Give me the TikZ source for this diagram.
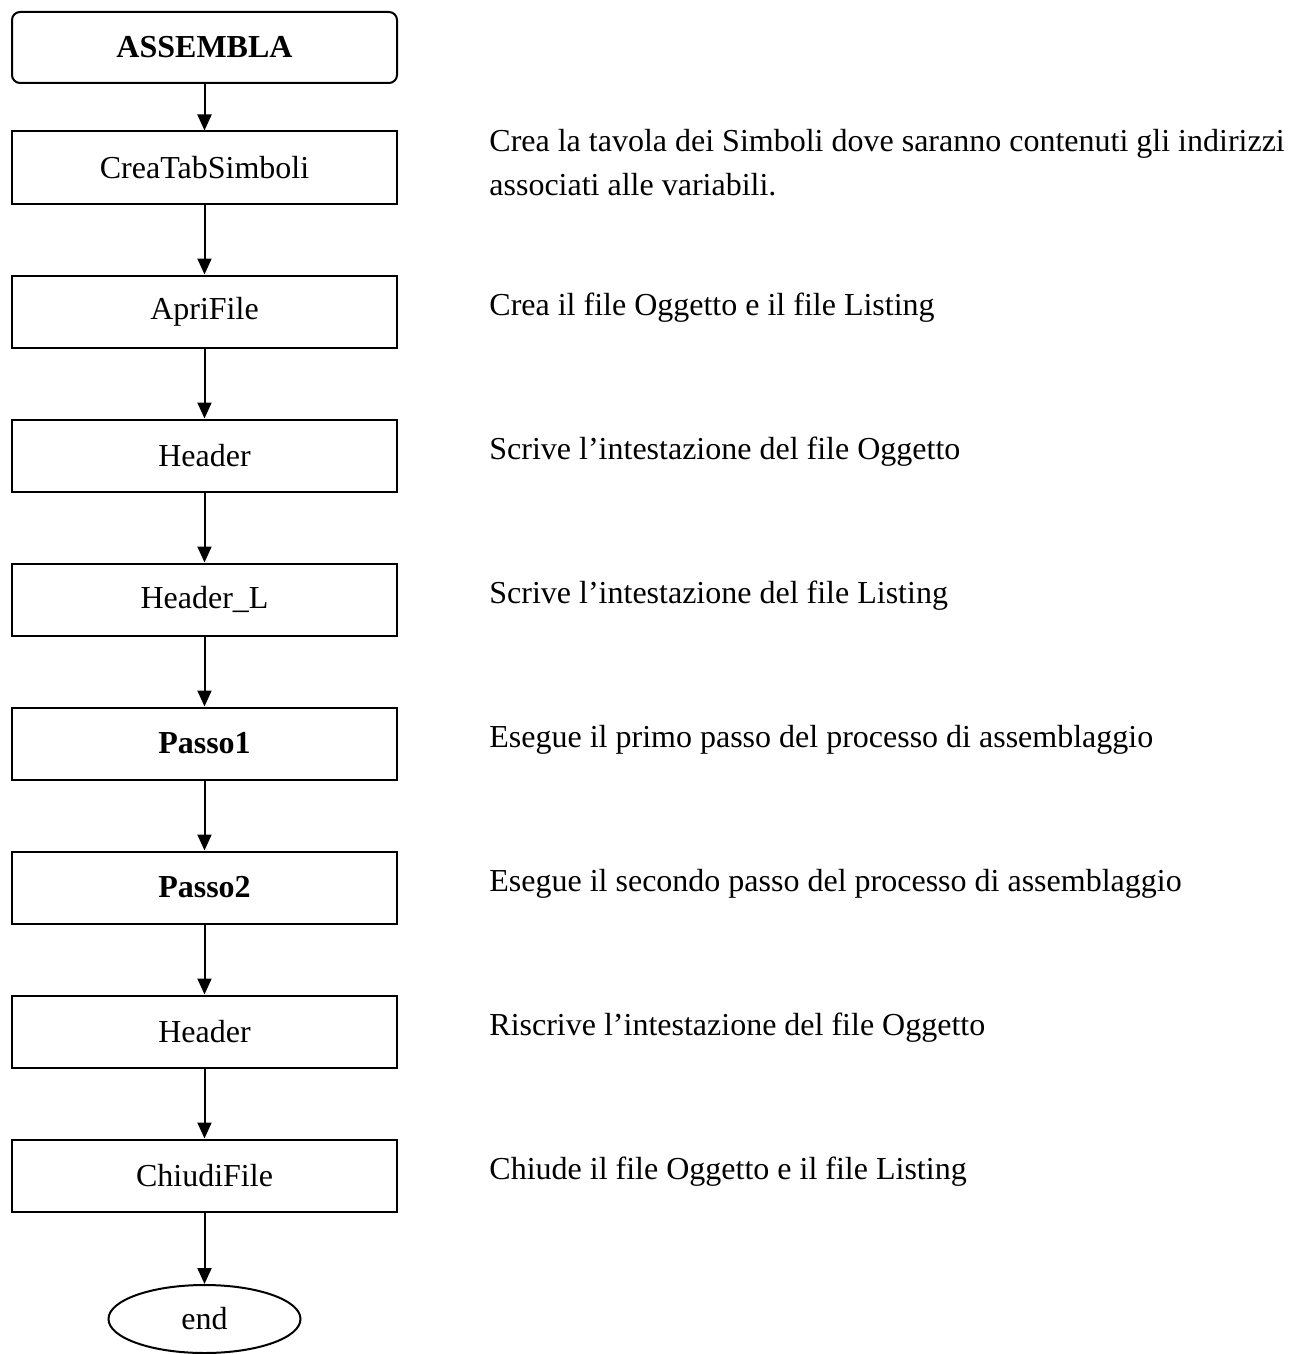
\documentclass[tikz,border=0pt]{standalone}
\usepackage{fontspec}
\setmainfont{Liberation Serif}
\usetikzlibrary{arrows.meta,shapes.geometric}
\begin{document}
\begin{tikzpicture}[x=0.5pt,y=-0.5pt,
  txt/.style={font=\fontsize{16}{22}\selectfont},
  stepbox/.style={txt,draw,line width=1pt,minimum width=192.5pt,minimum height=36pt,inner sep=0pt},
  startbox/.style={stepbox,rounded corners=4pt,minimum height=35.5pt},
  endnode/.style={txt,draw,ellipse,line width=1pt,minimum width=96pt,minimum height=34pt,inner sep=0pt},
  note/.style={txt,anchor=west,align=left,inner sep=0pt},
  flow/.style={line width=1pt,-{Triangle[length=8pt,width=7pt]}}
]
\useasboundingbox (0,0) rectangle (1300,1354);

% flowchart column
\node[startbox] (start) at (204.5,47.5) {\textbf{ASSEMBLA}};
\node[stepbox] (crea)   at (204.5,167.5)  {CreaTabSimboli};
\node[stepbox] (apri)   at (204.5,311.5)  {ApriFile};
\node[stepbox] (head)   at (204.5,455.5)  {Header};
\node[stepbox] (headl)  at (204.5,599.5)  {Header\_L};
\node[stepbox] (passo1) at (204.5,743.5)  {\textbf{Passo1}};
\node[stepbox] (passo2) at (204.5,887.5)  {\textbf{Passo2}};
\node[stepbox] (rhead)  at (204.5,1031.5) {Header};
\node[stepbox] (chiudi) at (204.5,1175.5) {ChiudiFile};
\node[endnode] (fine)   at (204.5,1319)   {end};

\draw[flow] (start)  -- (crea);
\draw[flow] (crea)   -- (apri);
\draw[flow] (apri)   -- (head);
\draw[flow] (head)   -- (headl);
\draw[flow] (headl)  -- (passo1);
\draw[flow] (passo1) -- (passo2);
\draw[flow] (passo2) -- (rhead);
\draw[flow] (rhead)  -- (chiudi);
\draw[flow] (chiudi) -- (fine);

% descriptions
\node[note] (dcrea)   at (489,163)  {Crea la tavola dei Simboli dove saranno contenuti gli indirizzi\\associati alle variabili.};
\node[note] (dapri)   at (489,308)  {Crea il file Oggetto e il file Listing};
\node[note] (dhead)   at (489,452)  {Scrive l’intestazione del file Oggetto};
\node[note] (dheadl)  at (489,596)  {Scrive l’intestazione del file Listing};
\node[note] (dpasso1) at (489,740)  {Esegue il primo passo del processo di assemblaggio};
\node[note] (dpasso2) at (489,884)  {Esegue il secondo passo del processo di assemblaggio};
\node[note] (drhead)  at (489,1028) {Riscrive l’intestazione del file Oggetto};
\node[note] (dchiudi) at (489,1172) {Chiude il file Oggetto e il file Listing};
\end{tikzpicture}
\end{document}
